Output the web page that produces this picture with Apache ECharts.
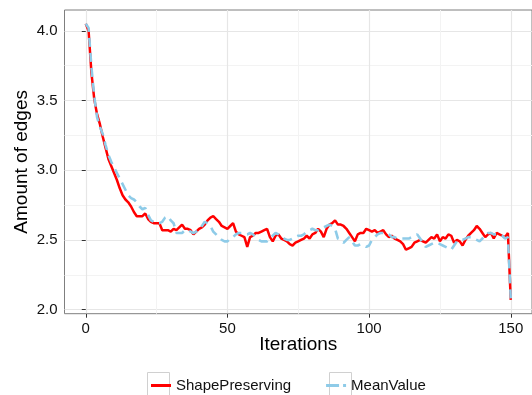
<!DOCTYPE html>
<html>
<head>
<meta charset="utf-8">
<script src="https://cdn.jsdelivr.net/npm/echarts@6/dist/echarts.min.js"></script>
<style>
  html, body { margin: 0; padding: 0; background: #ffffff; }
  #chart { width: 532px; height: 395px; }
</style>
</head>
<body>
<div id="chart"></div>
<script>
// Average edge count per iteration for the two smoothing schemes
const shapePreserving = [
  4.05, 4.00, 3.70, 3.51, 3.40, 3.33, 3.24, 3.16, 3.08, 3.03,
  2.98, 2.93, 2.87, 2.82, 2.79, 2.77, 2.74, 2.70, 2.67, 2.67,
  2.67, 2.69, 2.65, 2.63, 2.62, 2.62, 2.62, 2.57, 2.57, 2.57,
  2.56, 2.58, 2.57, 2.59, 2.61, 2.58, 2.58, 2.57, 2.54, 2.56,
  2.58, 2.59, 2.61, 2.64, 2.66, 2.67, 2.65, 2.63, 2.60, 2.59,
  2.58, 2.60, 2.62, 2.56, 2.54, 2.53, 2.52, 2.45, 2.52, 2.53,
  2.55, 2.55, 2.56, 2.57, 2.58, 2.52, 2.49, 2.53, 2.54, 2.51,
  2.50, 2.49, 2.47, 2.46, 2.48, 2.49, 2.50, 2.51, 2.53, 2.51,
  2.54, 2.55, 2.58, 2.56, 2.52, 2.58, 2.61, 2.62, 2.64, 2.61,
  2.61, 2.60, 2.58, 2.55, 2.52, 2.49, 2.54, 2.55, 2.55, 2.58,
  2.57, 2.56, 2.57, 2.55, 2.56, 2.57, 2.54, 2.52, 2.53, 2.51,
  2.50, 2.49, 2.47, 2.43, 2.44, 2.45, 2.48, 2.49, 2.50, 2.49,
  2.48, 2.50, 2.52, 2.51, 2.54, 2.49, 2.52, 2.51, 2.54, 2.53,
  2.48, 2.50, 2.49, 2.46, 2.50, 2.53, 2.55, 2.57, 2.60, 2.58,
  2.55, 2.52, 2.54, 2.55, 2.51, 2.55, 2.54, 2.53, 2.52, 2.55,
  2.07
];

const meanValue = [
  4.05, 4.02, 3.74, 3.53, 3.38, 3.31, 3.26, 3.18, 3.11, 3.06,
  3.02, 2.98, 2.94, 2.90, 2.86, 2.82, 2.80, 2.79, 2.77, 2.74,
  2.72, 2.73, 2.68, 2.64, 2.63, 2.62, 2.62, 2.63, 2.66, 2.67,
  2.64, 2.62, 2.55, 2.55, 2.55, 2.57, 2.57, 2.56, 2.55, 2.56,
  2.58, 2.60, 2.63, 2.62, 2.60, 2.56, 2.54, 2.52, 2.50, 2.49,
  2.49, 2.51, 2.52, 2.54, 2.55, 2.55, 2.54, 2.54, 2.55, 2.54,
  2.52, 2.50, 2.49, 2.49, 2.49, 2.51, 2.53, 2.55, 2.54, 2.52,
  2.51, 2.50, 2.50, 2.51, 2.52, 2.53, 2.53, 2.54, 2.56, 2.57,
  2.58, 2.57, 2.57, 2.58, 2.59, 2.60, 2.61, 2.60, 2.58, 2.51,
  2.50, 2.48, 2.50, 2.52, 2.49, 2.46, 2.46, 2.47, 2.46, 2.45,
  2.46, 2.50, 2.52, 2.54, 2.55, 2.55, 2.55, 2.54, 2.52, 2.52,
  2.51, 2.51, 2.51, 2.51, 2.51, 2.52, 2.53, 2.54, 2.51, 2.48,
  2.45, 2.46, 2.47, 2.48, 2.48, 2.47, 2.46, 2.45, 2.44, 2.43,
  2.46, 2.49, 2.50, 2.50, 2.51, 2.52, 2.52, 2.51, 2.50, 2.49,
  2.51, 2.53, 2.55, 2.55, 2.54, 2.54, 2.54, 2.53, 2.51, 2.52,
  2.08
];

const seriesNames = ['ShapePreserving', 'MeanValue'];
const xTicks = [0, 50, 100, 150];
const xMinorTicks = [25, 75, 125];
const yTicks = [2.0, 2.5, 3.0, 3.5, 4.0];
const yMinorTicks = [2.25, 2.75, 3.25, 3.75];

const toPairs = (vals) => vals.map((v, i) => [i, v]);

const FONT = 'Liberation Sans';
const xMin = -7.5, xMax = 157.5;
const yMin = 1.971, yMax = 4.149;

const RED = '#ff0000';
const BLUE = '#8ecbe8';

const chart = echarts.init(document.getElementById('chart'), null, { renderer: 'canvas' });

chart.setOption({
  animation: false,
  backgroundColor: '#ffffff',
  textStyle: { fontFamily: FONT },
  grid: {
    left: 64.5, right: -6, top: 10, bottom: 81.3,
    show: true, borderColor: '#7f7f7f', borderWidth: 1,
    backgroundColor: 'transparent'
  },
  legend: {
    data: [
      { name: seriesNames[0], icon: 'path://M0,0H20V3H0Z', itemStyle: { color: RED } },
      { name: seriesNames[1], icon: 'path://M0,0H13V3H0Z M17,0H20V3H17Z', itemStyle: { color: BLUE } }
    ],
    left: 146, top: 373,
    itemWidth: 20, itemHeight: 3, itemGap: 35,
    textStyle: { fontFamily: FONT, fontSize: 15, color: '#111' }
  },
  xAxis: [
    {
      type: 'value', min: xMin, max: xMax,
      name: 'Iterations', nameLocation: 'middle', nameGap: 22, nameMoveOverlap: false,
      nameTextStyle: { fontFamily: FONT, fontSize: 19, color: '#000' },
      axisLine: { show: false },
      axisTick: { show: true, customValues: xTicks, length: 4, lineStyle: { color: '#333' } },
      axisLabel: { customValues: xTicks, margin: 8, fontSize: 15, color: '#111', fontFamily: FONT },
      splitLine: { show: true, lineStyle: { color: '#e6e6e6', width: 1.2 } }
    },
    {
      type: 'value', min: xMin, max: xMax, position: 'bottom',
      axisLine: { show: false },
      axisTick: { show: false, customValues: xMinorTicks },
      axisLabel: { show: false, customValues: xMinorTicks },
      splitLine: { show: true, lineStyle: { color: '#f3f3f3', width: 1 } }
    }
  ],
  yAxis: [
    {
      type: 'value', min: yMin, max: yMax,
      name: 'Amount of edges', nameLocation: 'middle', nameGap: 33, nameMoveOverlap: false,
      nameTextStyle: { fontFamily: FONT, fontSize: 19, color: '#000' },
      axisLine: { show: false },
      axisTick: { show: true, customValues: yTicks, length: 4, lineStyle: { color: '#333' } },
      axisLabel: {
        customValues: yTicks, margin: 7, fontSize: 15, color: '#111', fontFamily: FONT,
        formatter: (v) => v.toFixed(1)
      },
      splitLine: { show: true, lineStyle: { color: '#e6e6e6', width: 1.2 } }
    },
    {
      type: 'value', min: yMin, max: yMax, position: 'left',
      axisLine: { show: false },
      axisTick: { show: false, customValues: yMinorTicks },
      axisLabel: { show: false, customValues: yMinorTicks },
      splitLine: { show: true, lineStyle: { color: '#f3f3f3', width: 1 } }
    }
  ],
  series: [
    {
      name: seriesNames[0], type: 'line', xAxisIndex: 0, yAxisIndex: 0,
      data: toPairs(shapePreserving),
      showSymbol: false, symbol: 'none',
      lineStyle: { color: RED, width: 2.5 },
      itemStyle: { color: RED },
      z: 3
    },
    {
      name: seriesNames[1], type: 'line', xAxisIndex: 0, yAxisIndex: 0,
      data: toPairs(meanValue),
      showSymbol: false, symbol: 'none',
      lineStyle: { color: BLUE, width: 2.6, type: [9, 6] },
      itemStyle: { color: BLUE },
      z: 4
    }
  ],
  graphic: [
    { type: 'rect', left: 145, top: 370, shape: { width: 22, height: 24 },
      style: { fill: 'none', stroke: '#d0d0d0', lineWidth: 1 }, z: -1 },
    { type: 'rect', left: 327, top: 370, shape: { width: 22, height: 24 },
      style: { fill: 'none', stroke: '#d0d0d0', lineWidth: 1 }, z: -1 }
  ]
});
</script>
</body>
</html>
